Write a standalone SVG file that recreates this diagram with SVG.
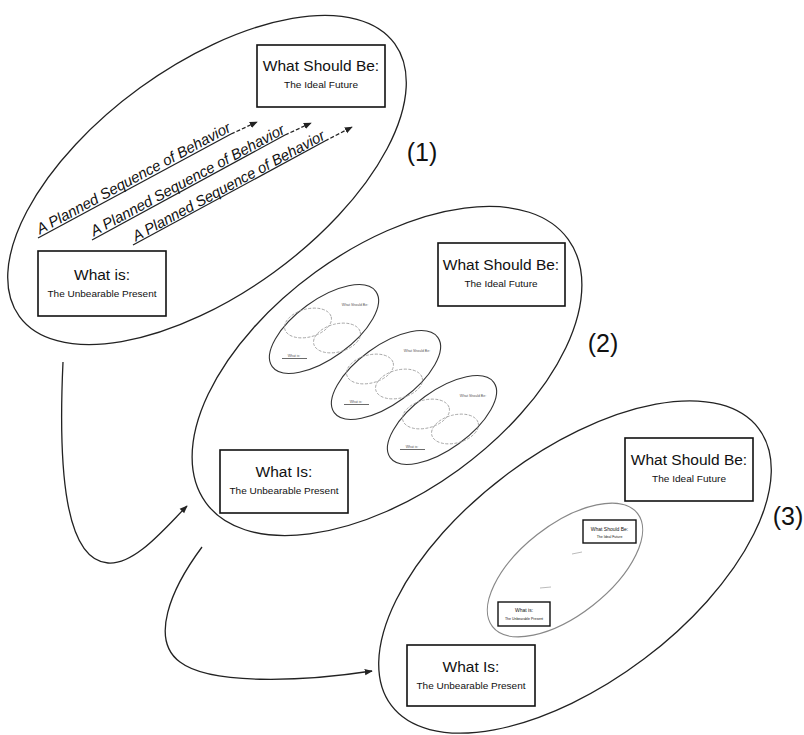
<svg xmlns="http://www.w3.org/2000/svg" xmlns:xlink="http://www.w3.org/1999/xlink" width="804" height="735" viewBox="0 0 804 735">
<style>
.ell{fill:none;stroke:#222;stroke-width:1.3}
.box{fill:#fff;stroke:#111;stroke-width:1.6}
.t{font-family:"Liberation Sans",Arial,sans-serif;fill:#111;text-anchor:middle}
.title{font-size:15.5px}
.sub{font-size:9px}
.lbl{font-size:25px}
.seq{font-family:"Liberation Sans",Arial,sans-serif;fill:#111;font-size:15px;font-style:italic}
.con{fill:none;stroke:#222;stroke-width:1.3}
.faint{fill:none;stroke:#999;stroke-width:0.8;stroke-dasharray:3 1.5}
.tiny{font-family:"Liberation Sans",Arial,sans-serif;fill:#555;font-size:3.5px;text-anchor:middle}
</style>
<defs>
<marker id="ah" viewBox="0 0 10 10" refX="9" refY="5" markerWidth="8" markerHeight="8" markerUnits="userSpaceOnUse" orient="auto">
<path d="M0,1 L10,5 L0,9 Z" fill="#222"/>
</marker>
<g id="miniEll">
<ellipse cx="0" cy="0" rx="64" ry="29" transform="rotate(-36)" fill="none" stroke="#333" stroke-width="1.1"/>
<ellipse class="faint" cx="-16" cy="-6" rx="24" ry="14" transform="rotate(-15 -16 -6)"/>
<ellipse class="faint" cx="13" cy="9" rx="24" ry="14" transform="rotate(-15 13 9)"/>
<text class="tiny" x="31" y="-23">What Should Be:</text>
<text class="tiny" x="-30" y="28">What is:</text>
<line x1="-42" y1="29.5" x2="-17" y2="29.5" stroke="#444" stroke-width="0.8"/>
</g>
</defs>
<rect width="804" height="735" fill="#fff"/>

<g id="stage-1">
<ellipse class="ell" cx="207" cy="180" rx="232" ry="114" transform="rotate(-36 207 180)"/>
<text class="t lbl" x="422" y="161">(1)</text>
</g>
<g id="stage-2">
<ellipse class="ell" cx="387" cy="371" rx="224" ry="122" transform="rotate(-36 387 371)"/>
<text class="t lbl" x="603" y="352">(2)</text>
</g>
<g id="stage-3">
<ellipse class="ell" cx="575" cy="567" rx="230" ry="115" transform="rotate(-37 575 567)"/>
<text class="t lbl" x="788" y="525">(3)</text>
</g>

<g id="ideal-1">
<rect class="box" x="257" y="45" width="128" height="62"/>
<text class="t title" x="321" y="71">What Should Be:</text>
<text class="t sub" x="321" y="88" textLength="74" lengthAdjust="spacingAndGlyphs">The Ideal Future</text>
</g>
<g id="present-1">
<rect class="box" x="38" y="251" width="128" height="65"/>
<text class="t title" x="102" y="280">What is:</text>
<text class="t sub" x="102" y="297" textLength="109" lengthAdjust="spacingAndGlyphs">The Unbearable Present</text>
</g>

<g id="sequences">
<line class="con" x1="38" y1="238" x2="231" y2="134"/>
<line class="con" x1="231" y1="134" x2="257" y2="122" stroke-dasharray="4 2" marker-end="url(#ah)"/>
<g transform="translate(40 234.5) rotate(-28.4)"><text class="seq" x="0" y="0" textLength="218" lengthAdjust="spacingAndGlyphs">A Planned Sequence of Behavior</text></g>
<line class="con" x1="92" y1="240" x2="285" y2="135"/>
<line class="con" x1="285" y1="135" x2="311" y2="123" stroke-dasharray="4 2" marker-end="url(#ah)"/>
<g transform="translate(94 236.5) rotate(-28.4)"><text class="seq" x="0" y="0" textLength="218" lengthAdjust="spacingAndGlyphs">A Planned Sequence of Behavior</text></g>
<line class="con" x1="133" y1="245" x2="325" y2="141"/>
<line class="con" x1="325" y1="141" x2="352" y2="127" stroke-dasharray="4 2" marker-end="url(#ah)"/>
<g transform="translate(136 241.5) rotate(-28.4)"><text class="seq" x="0" y="0" textLength="216" lengthAdjust="spacingAndGlyphs">A Planned Sequence of Behavior</text></g>
</g>

<g id="ideal-2">
<rect class="box" x="438" y="243" width="127" height="63"/>
<text class="t title" x="501" y="270">What Should Be:</text>
<text class="t sub" x="501" y="287" textLength="73" lengthAdjust="spacingAndGlyphs">The Ideal Future</text>
</g>
<g id="present-2">
<rect class="box" x="220" y="450" width="128" height="63"/>
<text class="t title" x="284" y="477">What Is:</text>
<text class="t sub" x="284" y="494" textLength="109" lengthAdjust="spacingAndGlyphs">The Unbearable Present</text>
</g>
<g id="substage-a"><use xlink:href="#miniEll" transform="translate(324 329)"/></g>
<g id="substage-b"><use xlink:href="#miniEll" transform="translate(386 375)"/></g>
<g id="substage-c"><use xlink:href="#miniEll" transform="translate(442 420)"/></g>

<g id="ideal-3">
<rect class="box" x="625" y="438" width="128" height="63"/>
<text class="t title" x="689" y="465">What Should Be:</text>
<text class="t sub" x="689" y="482" textLength="74" lengthAdjust="spacingAndGlyphs">The Ideal Future</text>
</g>
<g id="present-3">
<rect class="box" x="407" y="645" width="128" height="61"/>
<text class="t title" x="471" y="672">What Is:</text>
<text class="t sub" x="471" y="689" textLength="109" lengthAdjust="spacingAndGlyphs">The Unbearable Present</text>
</g>
<g id="inner-stage">
<ellipse cx="565" cy="570" rx="92" ry="45" transform="rotate(-38 565 570)" fill="none" stroke="#888" stroke-width="1.2"/>
<line x1="572" y1="554" x2="582" y2="552" stroke="#aaa" stroke-width="0.8"/>
<line x1="540" y1="588" x2="551" y2="587" stroke="#aaa" stroke-width="0.8"/>
<rect x="583" y="520" width="53" height="23" fill="#fff" stroke="#111" stroke-width="1.4"/>
<text class="t" x="609.5" y="531" font-size="5">What Should Be:</text>
<text class="t" x="609.5" y="538" font-size="3.5">The Ideal Future</text>
<rect x="498" y="602" width="52" height="24" fill="#fff" stroke="#111" stroke-width="1.4"/>
<text class="t" x="524" y="612" font-size="5">What is:</text>
<text class="t" x="524" y="619.5" font-size="3.5">The Unbearable Present</text>
</g>

<g id="connectors">
<path class="con" d="M 63 362 C 58 470, 65 560, 108 563 C 135 565, 165 528, 187 506" marker-end="url(#ah)"/>
<path class="con" d="M 202 547 C 170 590, 150 640, 180 662 C 210 685, 300 682, 372 671" marker-end="url(#ah)"/>
</g>
</svg>
